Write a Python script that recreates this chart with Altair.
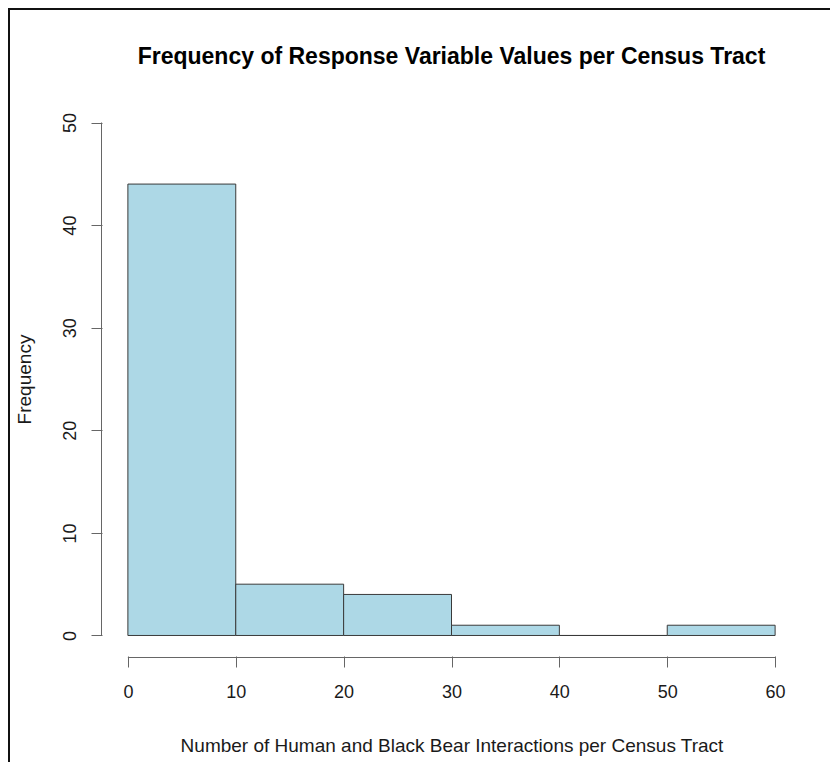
import altair as alt
import pandas as pd

# ---- data ----
bin_start = [0, 10, 20, 30, 40, 50]
bin_end = [10, 20, 30, 40, 50, 60]
counts = [44, 5, 4, 1, 0, 1]
x_ticks = [0, 10, 20, 30, 40, 50, 60]
y_ticks = [0, 10, 20, 30, 40, 50]
chart_title = "Frequency of Response Variable Values per Census Tract"
x_title = "Number of Human and Black Bear Interactions per Census Tract"
y_title = "Frequency"

df = pd.DataFrame({"start": bin_start, "end": bin_end, "count": counts,
                   "base": [0] * len(counts)})
xline_df = pd.DataFrame({"x": [x_ticks[0]], "x2": [x_ticks[-1]]})
yline_df = pd.DataFrame({"y": [y_ticks[0]], "y2": [y_ticks[-1]]})
one = pd.DataFrame({"k": [0]})

W, H = 699, 554
PL, PT, PR, PB = 94, 94, 29, 106
FONT = "Liberation Sans"
AXC = "#666666"
TXT = "#1a1a1a"

xscale = alt.Scale(domain=[-2.4, 62.4], nice=False, zero=False)
yscale = alt.Scale(domain=[-2, 52], nice=False, zero=False)

bars = alt.Chart(df).mark_rect(fill="#ADD8E6", stroke="#3a3a3a", strokeWidth=1).encode(
    x=alt.X("start:Q", scale=xscale,
            axis=alt.Axis(values=x_ticks, domain=False, grid=False, tickSize=11,
                          tickColor=AXC, tickWidth=1, labelFont=FONT, labelFontSize=18,
                          labelColor=TXT, labelPadding=16, labelFlush=False,
                          labelAlign="center", labelBaseline="top",
                          title=x_title, titleFont=FONT, titleFontSize=19,
                          titleFontWeight="normal", titleColor=TXT,
                          titleX=W / 2, titleY=95, titleAlign="center",
                          titleBaseline="alphabetic")),
    x2="end:Q",
    y=alt.Y("base:Q", scale=yscale,
            axis=alt.Axis(values=y_ticks, domain=False, grid=False, tickSize=11,
                          tickColor=AXC, tickWidth=1, labelFont=FONT, labelFontSize=18,
                          labelColor=TXT, labelPadding=16, labelFlush=False,
                          labelAngle=270, labelAlign="center", labelBaseline="alphabetic",
                          title=y_title, titleFont=FONT, titleFontSize=19,
                          titleFontWeight="normal", titleColor=TXT, titleAngle=270,
                          titleX=-72, titleY=H / 2, titleAlign="center",
                          titleBaseline="alphabetic")),
    y2="count:Q",
)

xline = alt.Chart(xline_df).mark_rule(color=AXC, strokeWidth=1).encode(
    x=alt.X("x:Q", scale=xscale), x2="x2:Q", y=alt.value(H + 1.5))
yline = alt.Chart(yline_df).mark_rule(color=AXC, strokeWidth=1).encode(
    y=alt.Y("y:Q", scale=yscale), y2="y2:Q", x=alt.value(-0.5))

frame_top = alt.Chart(one).mark_rule(color="#111111", strokeWidth=2).encode(
    x=alt.value(-PL), x2=alt.value(W + PR), y=alt.value(-PT + 1))
frame_left = alt.Chart(one).mark_rule(color="#111111", strokeWidth=2).encode(
    x=alt.value(-PL + 1), y=alt.value(-PT), y2=alt.value(H + PB))

title_mark = alt.Chart(one).mark_text(
    font=FONT, fontSize=23, fontWeight="bold", color="#000000",
    align="center", baseline="alphabetic",
).encode(x=alt.value(W / 2), y=alt.value(-38), text=alt.value(chart_title))

chart = alt.layer(frame_top, frame_left, bars, xline, yline, title_mark).properties(
    width=W, height=H,
    autosize=alt.AutoSizeParams(type="none"),
    padding={"left": PL, "top": PT, "right": PR, "bottom": PB},
).configure(background="white").configure_view(stroke=None)

chart.save("out.html", embed_options={"renderer": "svg", "actions": False})
